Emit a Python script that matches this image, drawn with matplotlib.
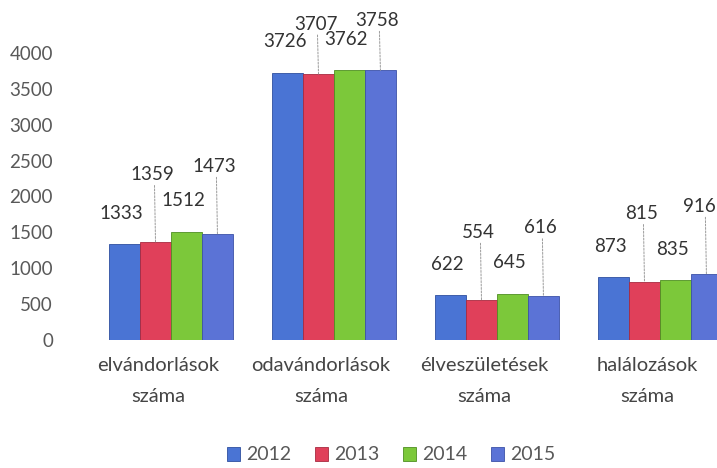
import matplotlib
matplotlib.use("Agg")
import matplotlib.pyplot as plt
from matplotlib.transforms import ScaledTranslation
import numpy as np

categories = ["elvándorlások\nszáma", "odavándorlások\nszáma", "élveszületések\nszáma", "halálozások\nszáma"]
years = ["2012", "2013", "2014", "2015"]
v2012 = [1333, 3726, 622, 873]
v2013 = [1359, 3707, 554, 815]
v2014 = [1512, 3762, 645, 835]
v2015 = [1473, 3758, 616, 916]
yticks = [0, 500, 1000, 1500, 2000, 2500, 3000, 3500, 4000]

series = [v2012, v2013, v2014, v2015]
colors = ["#4A74D4", "#E0405A", "#7CC83A", "#5B73D6"]
edge = ["#2E4FA0", "#A82A40", "#4F8F22", "#3C52A8"]

plt.rcParams['font.family'] = ['Lato', 'DejaVu Sans']

fig = plt.figure(figsize=(7.17, 4.68), dpi=100)
ax = fig.add_axes([60/717, 0.2735, 657/717, 0.7053])

x = np.arange(len(categories))
w = 0.19
labels_drawn = []
for i, (vals, c, ec) in enumerate(zip(series, colors, edge)):
    pos = x + (i - 1.5) * w
    ax.bar(pos, vals, width=w, color=c, edgecolor=ec, linewidth=0.6, label=years[i], zorder=2)
    for j, (px, v) in enumerate(zip(pos, vals)):
        upper = i % 2 == 1
        if upper:
            rise = 50 if v > 3000 else 68
        else:
            rise = 31
        t = ax.annotate(str(v), xy=(px, v), xytext=(-3, rise), textcoords='offset pixels',
                        ha='center', va='center', fontsize=13.5, color='#333333', zorder=3,
                        annotation_clip=False)
        labels_drawn.append(t)
        if upper:
            ax.annotate("", xy=(px, v), xytext=(-1, rise - 11), textcoords='offset pixels',
                        arrowprops=dict(arrowstyle='-', color='#9a9a9a', lw=0.7, ls=(0, (2, 1.5)),
                                        shrinkA=0, shrinkB=0), annotation_clip=False)

ax.set_xlim(-0.681, 3.35)
ax.set_ylim(0, 4600)
ax.set_yticks(yticks)
ax.set_yticklabels([str(t) for t in yticks], fontsize=13.5, color='#595959')
ax.set_xticks(x)
ax.set_xticklabels(categories, fontsize=14.5, color='#454545', linespacing=2.0)
ax.tick_params(axis='both', length=0)
ax.tick_params(axis='y', pad=5)
ax.tick_params(axis='x', pad=12)
for s in ax.spines.values():
    s.set_visible(False)
shift = ScaledTranslation(-13/100, 0, fig.dpi_scale_trans)
for lab in ax.get_xticklabels():
    lab.set_transform(lab.get_transform() + shift)

handles, labels = ax.get_legend_handles_labels()
fig.legend(handles, labels, loc='center', bbox_to_anchor=(391/717, 1 - 455/468), ncol=4,
           frameon=False, fontsize=14, handlelength=0.7, handleheight=0.7,
           handletextpad=0.3, columnspacing=1.2, labelcolor='#595959')

# keep data labels inside the figure
fig.canvas.draw()
r = fig.canvas.get_renderer()
for t in labels_drawn:
    bb = t.get_window_extent(r)
    if bb.x1 > fig.bbox.width - 1:
        dx = bb.x1 - (fig.bbox.width - 1)
        ox, oy = t.xyann
        t.xyann = (ox - dx, oy)

fig.savefig("out.png", dpi=100, facecolor='white')
